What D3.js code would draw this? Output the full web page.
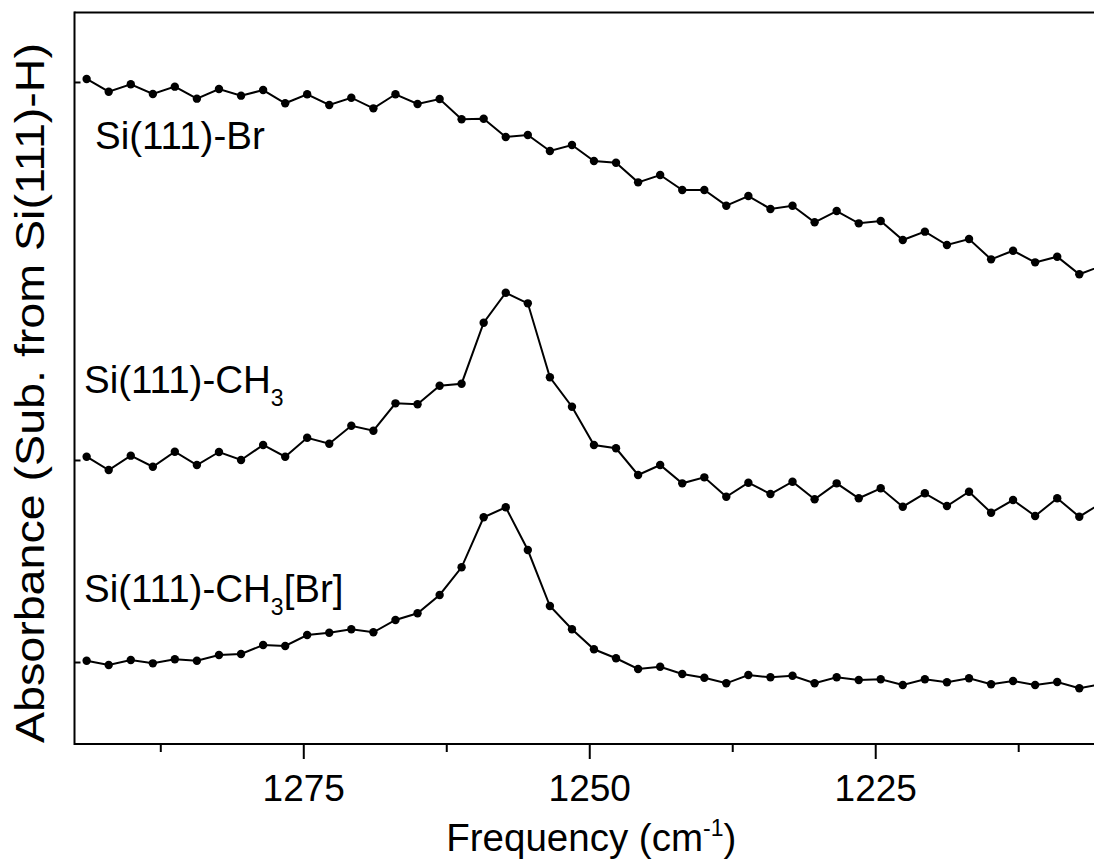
<!DOCTYPE html>
<html>
<head>
<meta charset="utf-8">
<script src="https://cdn.jsdelivr.net/npm/d3@7"></script>
<style>
  html, body { margin: 0; padding: 0; background: #fff; overflow: hidden; width: 1094px; height: 863px; }
  svg { display: block; overflow: hidden; }
  text { font-family: "Liberation Sans", Arial, sans-serif; fill: #000; }
</style>
</head>
<body>
<svg id="chart" width="1094" height="863" viewBox="0 0 1094 863"></svg>
<script>
// ---------- data ----------
const wavenumbers = [1293.94, 1292.01, 1290.08, 1288.15, 1286.23, 1284.30, 1282.37, 1280.44, 1278.51, 1276.58,
  1274.66, 1272.73, 1270.80, 1268.87, 1266.94, 1265.01, 1263.08, 1261.16, 1259.23, 1257.30,
  1255.37, 1253.44, 1251.51, 1249.59, 1247.66, 1245.73, 1243.80, 1241.87, 1239.94, 1238.02,
  1236.09, 1234.16, 1232.23, 1230.30, 1228.37, 1226.44, 1224.52, 1222.59, 1220.66, 1218.73,
  1216.80, 1214.87, 1212.95, 1211.02, 1209.09, 1207.16, 1205.23];

const seriesNames = ["Si(111)-Br", "Si(111)-CH3", "Si(111)-CH3[Br]"];
const seriesOffsets = [90.44, 38.80, 11.20];

const siBr = [90.85, 89.11, 90.12, 88.80, 89.80, 88.16, 89.48, 88.57, 89.34, 87.53,
  88.76, 87.30, 88.29, 86.84, 88.76, 87.43, 88.11, 85.34, 85.42, 82.92,
  83.20, 81.01, 81.83, 79.64, 79.41, 76.73, 77.73, 75.68, 75.68, 73.54,
  74.86, 73.09, 73.54, 71.27, 72.81, 71.13, 71.45, 68.85, 69.99, 68.17,
  68.99, 66.21, 67.39, 65.80, 66.57, 64.17, 65.30];

const siCH3 = [39.25, 37.43, 39.39, 37.88, 39.93, 38.11, 39.89, 38.80, 40.85, 39.25,
  41.84, 41.02, 43.48, 42.80, 46.54, 46.41, 48.95, 49.22, 57.55, 61.65,
  60.20, 50.10, 46.08, 40.85, 40.40, 36.75, 38.11, 35.61, 36.43, 33.78,
  35.70, 34.15, 35.83, 33.43, 35.61, 33.57, 34.93, 32.42, 34.25, 32.51,
  34.47, 31.60, 33.33, 31.15, 33.57, 31.05, 32.92];

const siCH3Br = [11.38, 10.79, 11.48, 11.02, 11.57, 11.38, 12.16, 12.30, 13.52, 13.39,
  14.89, 15.20, 15.67, 15.26, 16.94, 17.86, 20.36, 24.14, 30.97, 32.34,
  26.50, 18.85, 15.67, 12.94, 11.71, 10.25, 10.56, 9.56, 9.06, 8.29,
  9.43, 9.11, 9.33, 8.29, 9.11, 8.74, 8.84, 8.06, 8.84, 8.43,
  8.98, 8.16, 8.61, 8.06, 8.47, 7.61, 8.20];

const xDomain = [1295, 1205];
const yDomain = [0, 100];
const majorTicks = [1275, 1250, 1225];
const minorTicks = [1287.5, 1262.5, 1237.5, 1212.5];

// ---------- layout ----------
const svg = d3.select("#chart");
const mLeft = 74.5, mRight = 1104, mTop = 12.5, mBottom = 744;

const x = d3.scaleLinear().domain(xDomain).range([mLeft, mRight]);
const y = d3.scaleLinear().domain(yDomain).range([mBottom, 12]);

const allSeries = [siBr, siCH3, siCH3Br];

svg.append("clipPath").attr("id", "plotclip")
  .append("rect").attr("x", mLeft).attr("y", mTop).attr("width", 1094 - mLeft).attr("height", mBottom - mTop);

const line = d3.line().x((d, i) => x(wavenumbers[i])).y(d => y(d));

const plot = svg.append("g").attr("clip-path", "url(#plotclip)");
allSeries.forEach(s => {
  plot.append("path").datum(s).attr("d", line)
    .attr("fill", "none").attr("stroke", "#000").attr("stroke-width", 2);
  plot.selectAll(null).data(s).enter().append("circle")
    .attr("cx", (d, i) => x(wavenumbers[i]))
    .attr("cy", d => y(d))
    .attr("r", 4.2)
    .attr("fill", "#000");
});

// frame: left, top and bottom lines (right side lies beyond the picture)
const frame = svg.append("g").attr("stroke", "#000").attr("stroke-width", 2).attr("fill", "none");
frame.append("line").attr("x1", mLeft).attr("x2", mLeft).attr("y1", mTop - 1).attr("y2", mBottom + 1);
frame.append("line").attr("x1", mLeft).attr("x2", 1094).attr("y1", mTop).attr("y2", mTop);
frame.append("line").attr("x1", mLeft).attr("x2", 1094).attr("y1", mBottom).attr("y2", mBottom);

// x axis
const xAxis = d3.axisBottom(x).tickValues(majorTicks).tickSize(15).tickPadding(16).tickFormat(d3.format("d"));
const gx = svg.append("g").attr("transform", `translate(0,${mBottom})`).call(xAxis);
gx.select(".domain").remove();
gx.selectAll(".tick line").attr("stroke", "#000").attr("stroke-width", 2);
gx.selectAll(".tick text").attr("font-size", 37).attr("font-family", "Liberation Sans, Arial, sans-serif").attr("fill", "#000");

const xMinor = d3.axisBottom(x).tickValues(minorTicks).tickSize(8).tickFormat("");
const gxm = svg.append("g").attr("transform", `translate(0,${mBottom})`).call(xMinor);
gxm.select(".domain").remove();
gxm.selectAll(".tick line").attr("stroke", "#000").attr("stroke-width", 2);

// y axis (offset markers, inward)
const yAxis = d3.axisRight(y).tickValues(seriesOffsets).tickSize(6).tickFormat("");
const gy = svg.append("g").attr("transform", `translate(${mLeft},0)`).call(yAxis);
gy.select(".domain").remove();
gy.selectAll(".tick line").attr("stroke", "#000").attr("stroke-width", 2);

// x title
const xt = svg.append("text").attr("x", x(1250) + 2).attr("y", 851)
  .attr("text-anchor", "middle").attr("font-size", 38.5);
xt.append("tspan").text("Frequency (cm");
xt.append("tspan").text("-1").attr("font-size", 23).attr("dy", -15);
xt.append("tspan").text(")").attr("dy", 15);

// y title
svg.append("text").attr("transform", `translate(44,393) rotate(-90)`)
  .attr("text-anchor", "middle").attr("font-size", 40)
  .attr("textLength", 700).attr("lengthAdjust", "spacingAndGlyphs")
  .text("Absorbance (Sub. from Si(111)-H)");

// series labels
const labelPos = [[95, 149], [84, 393], [84, 602]];
function addLabel(i) {
  const t = svg.append("text").attr("x", labelPos[i][0]).attr("y", labelPos[i][1]).attr("font-size", 38.5);
  if (i === 0) { t.text(seriesNames[0]); return; }
  t.append("tspan").text("Si(111)-CH");
  t.append("tspan").text("3").attr("font-size", 23).attr("dy", 13);
  if (i === 2) t.append("tspan").text("[Br]").attr("dy", -13);
}
[0, 1, 2].forEach(addLabel);
</script>
</body>
</html>
